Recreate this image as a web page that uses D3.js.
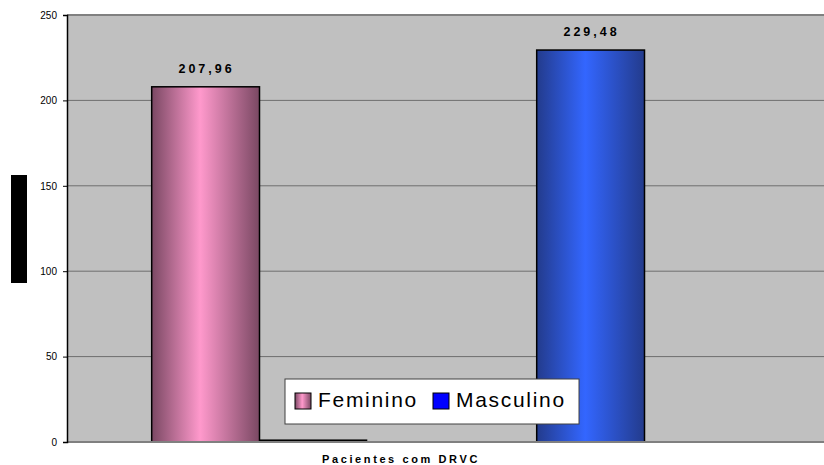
<!DOCTYPE html>
<html>
<head>
<meta charset="utf-8">
<script src="https://cdn.jsdelivr.net/npm/d3@7"></script>
<style>
  html, body { margin: 0; padding: 0; background: #fff; }
  svg { display: block; font-family: "Liberation Sans", Arial, sans-serif; }
</style>
</head>
<body>
<svg id="chart" width="824" height="465"></svg>
<script>
// Patient groups and their mean values
const groups = ["Feminino", "Masculino"];
const mainValues = [207.96, 229.48];
const secondValues = [1.5, 0];
const valueLabels = ["207,96", "229,48"];
const yTicks = [0, 50, 100, 150, 200, 250];
const xTitle = "Pacientes com DRVC";
const legendItems = ["Feminino", "Masculino"];

const svg = d3.select("#chart");
const W = 824, H = 465;
const m = { left: 67, top: 15, bottom: 442 };

const y = d3.scaleLinear().domain([0, 250]).range([m.bottom, m.top]);
const x = d3.scaleBand().domain(groups).range([m.left, m.left + 770]).paddingInner(0).paddingOuter(0);
const slot = d3.scaleBand().domain(["a", "b"]).range([0, x.bandwidth()]).paddingInner(0).paddingOuter(0.7857);

// gradients
const defs = svg.append("defs");
function grad(id, edge, mid) {
  const g = defs.append("linearGradient").attr("id", id).attr("x1", "0%").attr("x2", "100%");
  g.append("stop").attr("offset", "0%").attr("stop-color", edge);
  g.append("stop").attr("offset", "45%").attr("stop-color", mid);
  g.append("stop").attr("offset", "100%").attr("stop-color", edge);
}
grad("pinkGrad", "#7a4863", "#ff99cc");
grad("blueGrad", "#233b8c", "#3366ff");

// plot background
svg.append("rect").attr("x", m.left).attr("y", m.top)
  .attr("width", W - m.left).attr("height", m.bottom - m.top).attr("fill", "#c0c0c0");

// gridlines
svg.append("g").selectAll("line").data(yTicks.filter(d => d > 0 && d < 250)).join("line")
  .attr("x1", m.left).attr("x2", W)
  .attr("y1", d => y(d)).attr("y2", d => y(d))
  .attr("stroke", "#6e6e6e").attr("stroke-width", 1);
svg.append("line").attr("x1", m.left).attr("x2", W).attr("y1", y(250)).attr("y2", y(250))
  .attr("stroke", "#808080").attr("stroke-width", 2);

// bars
const fills = ["url(#pinkGrad)", "url(#blueGrad)"];
svg.append("g").selectAll("rect").data(groups).join("rect")
  .attr("x", d => x(d) + slot("a"))
  .attr("width", slot.bandwidth())
  .attr("y", (d, i) => y(mainValues[i]))
  .attr("height", (d, i) => y(0) - y(mainValues[i]))
  .attr("fill", (d, i) => fills[i])
  .attr("stroke", "#000").attr("stroke-width", 1.5);

svg.append("g").selectAll("rect").data(groups.filter((d, i) => secondValues[i] > 0)).join("rect")
  .attr("x", d => x(d) + slot("b"))
  .attr("width", slot.bandwidth())
  .attr("y", d => y(secondValues[groups.indexOf(d)]))
  .attr("height", d => y(0) - y(secondValues[groups.indexOf(d)]))
  .attr("fill", "#000");

// value labels
svg.append("g").selectAll("text").data(groups).join("text")
  .attr("x", d => x(d) + slot("a") + slot.bandwidth() / 2 + 1)
  .attr("y", (d, i) => y(mainValues[i]) - 14)
  .attr("text-anchor", "middle")
  .attr("font-size", 12.5).attr("font-weight", "bold")
  .attr("letter-spacing", 3)
  .text((d, i) => valueLabels[i]);

// axes lines
svg.append("line").attr("x1", m.left).attr("x2", W).attr("y1", y(0)).attr("y2", y(0))
  .attr("stroke", "#808080").attr("stroke-width", 2);
const yAxis = d3.axisLeft(y).tickValues(yTicks).tickSize(4).tickPadding(6).tickFormat(d3.format("d"));
const ya = svg.append("g").attr("transform", `translate(${m.left},0)`).call(yAxis);
ya.select(".domain").attr("stroke", "#000").attr("stroke-width", 1.5);
ya.selectAll(".tick line").attr("stroke", "#000");
ya.selectAll(".tick text").attr("font-size", 10).attr("fill", "#000")
  .attr("font-family", "Liberation Sans, Arial, sans-serif");

// y axis title block
svg.append("rect").attr("x", 11).attr("y", 175).attr("width", 16).attr("height", 108).attr("fill", "#000");

// x axis title
svg.append("text").attr("x", 401).attr("y", 463).attr("text-anchor", "middle")
  .attr("font-size", 11).attr("font-weight", "bold").attr("letter-spacing", 2.6)
  .text(xTitle);

// legend
const lg = svg.append("g").attr("transform", "translate(285,379)");
lg.append("rect").attr("width", 294).attr("height", 45).attr("fill", "#fff")
  .attr("stroke", "#404040").attr("stroke-width", 1);
const swatchFills = ["url(#pinkGrad)", "#0000ff"];
const swX = [10, 148];
legendItems.forEach((name, i) => {
  lg.append("rect").attr("x", swX[i]).attr("y", 14).attr("width", 16).attr("height", 16)
    .attr("fill", swatchFills[i]).attr("stroke", "#000").attr("stroke-width", 1);
  lg.append("text").attr("x", swX[i] + 23).attr("y", 28)
    .attr("font-size", 21).attr("letter-spacing", 1.7).text(name);
});
</script>
</body>
</html>
